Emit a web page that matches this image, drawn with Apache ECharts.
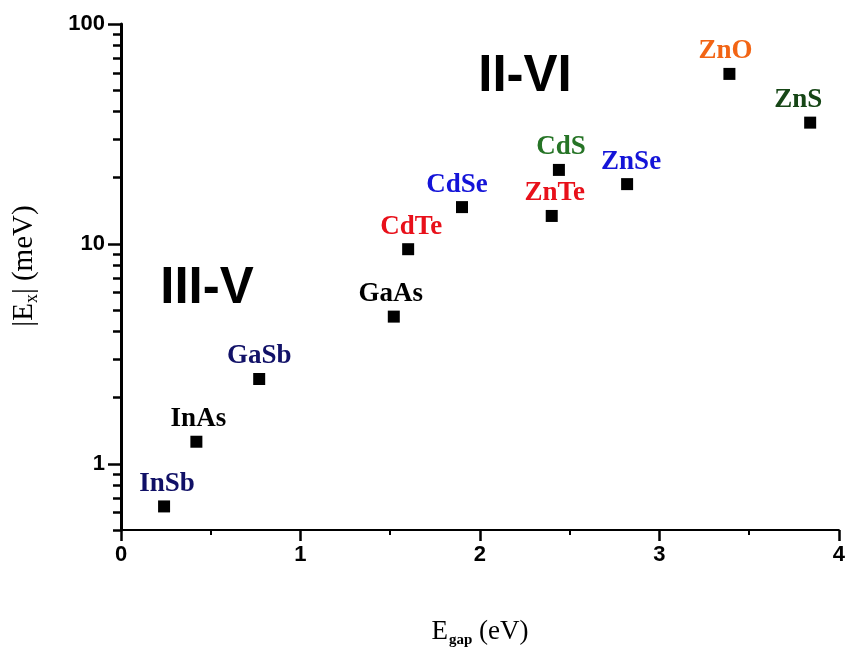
<!DOCTYPE html>
<html>
<head>
<meta charset="utf-8">
<script src="https://cdn.jsdelivr.net/npm/echarts@6/dist/echarts.min.js"></script>
<style>
  html, body { margin: 0; padding: 0; background: #fff; }
  #chart { width: 848px; height: 653px; }
</style>
</head>
<body>
<div id="chart"></div>
<script>
// materials, band gap (eV) and exciton binding energy (meV)
const materials = ['InSb', 'InAs', 'GaSb', 'GaAs', 'CdTe', 'CdSe', 'ZnTe', 'CdS', 'ZnSe', 'ZnO', 'ZnS']
const gaps = [0.24, 0.42, 0.77, 1.52, 1.60, 1.90, 2.40, 2.44, 2.82, 3.39, 3.84]
const energies = [0.64, 1.26, 2.43, 4.67, 9.46, 14.7, 13.4, 21.7, 18.7, 59.3, 35.6]

const xTicks = [0, 1, 2, 3, 4]
const yMajorTicks = [1, 10, 100]
const yMinorTicks = [0.5, 0.6, 0.7, 0.8, 0.9, 2, 3, 4, 5, 6, 7, 8, 9, 20, 30, 40, 50, 60, 70, 80, 90]

// label colours / nudges per material
const labelStyle = {
  InSb: { color: '#101066', dx: 3 },
  InAs: { color: '#000000', dx: 2 },
  GaSb: { color: '#121268', dx: 0 },
  GaAs: { color: '#000000', dx: -3 },
  CdTe: { color: '#e8101a', dx: 3 },
  CdSe: { color: '#1414d8', dx: -5 },
  ZnTe: { color: '#e8101a', dx: 3 },
  CdS: { color: '#267426', dx: 2 },
  ZnSe: { color: '#1414d8', dx: 4 },
  ZnO: { color: '#f26414', dx: -4 },
  ZnS: { color: '#164616', dx: -12 }
}

const points = materials.map((name, i) => ({
  name: name,
  value: [gaps[i], energies[i]],
  label: {
    color: labelStyle[name].color,
    offset: [labelStyle[name].dx, 0]
  }
}))

const myChart = echarts.init(document.getElementById('chart'))

const serif = '"Liberation Serif", "DejaVu Serif", serif'
const sans = '"Liberation Sans", Arial, sans-serif'

const option = {
  animation: false,
  backgroundColor: '#fff',
  grid: {
    left: 121,
    right: 7,
    top: 24,
    bottom: 123
  },
  xAxis: {
    type: 'value',
    min: 0,
    max: 4,
    interval: 1,
    name: '{n|E}{s|gap}{n| (eV)}',
    nameLocation: 'middle',
    nameGap: 86,
    nameTextStyle: {
      rich: {
        n: { fontFamily: serif, fontSize: 27, color: '#000', lineHeight: 32, verticalAlign: 'middle' },
        s: { fontFamily: serif, fontSize: 15, fontWeight: 'bold', color: '#000', lineHeight: 32, verticalAlign: 'bottom', padding: [0, 0, 0, 1] }
      }
    },
    axisLine: { lineStyle: { color: '#000', width: 2 } },
    axisTick: { show: true, length: 11, lineStyle: { color: '#000', width: 2.5 } },
    minorTick: { show: true, splitNumber: 2, length: 5, lineStyle: { color: '#000', width: 2 } },
    splitLine: { show: false },
    axisLabel: {
      margin: 14,
      color: '#000',
      fontFamily: sans,
      fontWeight: 'bold',
      fontSize: 22,
      formatter: (v) => xTicks.includes(v) ? String(v) : ''
    }
  },
  yAxis: [
    {
      type: 'log',
      logBase: 10,
      min: 0.5,
      max: 100,
      name: '{n||E}{s|x}{n|| (meV)}',
      nameLocation: 'middle',
      nameGap: 80,
      nameTextStyle: {
        padding: [0, 0, 0, 22],
        rich: {
          n: { fontFamily: serif, fontSize: 29, color: '#000', lineHeight: 34, verticalAlign: 'middle' },
          s: { fontFamily: serif, fontSize: 18, color: '#000', lineHeight: 34, verticalAlign: 'bottom' }
        }
      },
      axisLine: { show: true, lineStyle: { color: '#000', width: 3 } },
      axisTick: { show: true, length: 13, customValues: yMajorTicks, lineStyle: { color: '#000', width: 2.5 } },
      splitLine: { show: false },
      axisLabel: {
        margin: 16,
        customValues: yMajorTicks,
        color: '#000',
        fontFamily: sans,
        fontWeight: 'bold',
        fontSize: 22
      }
    },
    {
      type: 'log',
      logBase: 10,
      min: 0.5,
      max: 100,
      position: 'left',
      axisLine: { show: false },
      axisTick: { show: true, length: 8, customValues: yMinorTicks, lineStyle: { color: '#000', width: 2.5 } },
      axisLabel: { show: false },
      splitLine: { show: false }
    }
  ],
  graphic: [
    {
      type: 'text',
      x: 207,
      y: 289,
      style: {
        text: 'III-V',
        font: 'bold 51px "Liberation Sans", Arial, sans-serif',
        fill: '#000',
        textAlign: 'center',
        textVerticalAlign: 'middle'
      }
    },
    {
      type: 'text',
      x: 525,
      y: 77,
      style: {
        text: 'II-VI',
        font: 'bold 51px "Liberation Sans", Arial, sans-serif',
        fill: '#000',
        textAlign: 'center',
        textVerticalAlign: 'middle'
      }
    }
  ],
  series: [
    {
      type: 'scatter',
      yAxisIndex: 0,
      symbol: 'rect',
      symbolSize: 12,
      itemStyle: { color: '#000', opacity: 1 },
      label: {
        show: true,
        position: 'top',
        distance: 3,
        formatter: '{b}',
        fontFamily: serif,
        fontWeight: 'bold',
        fontSize: 27
      },
      data: points
    }
  ]
}

option && myChart.setOption(option)
</script>
</body>
</html>
